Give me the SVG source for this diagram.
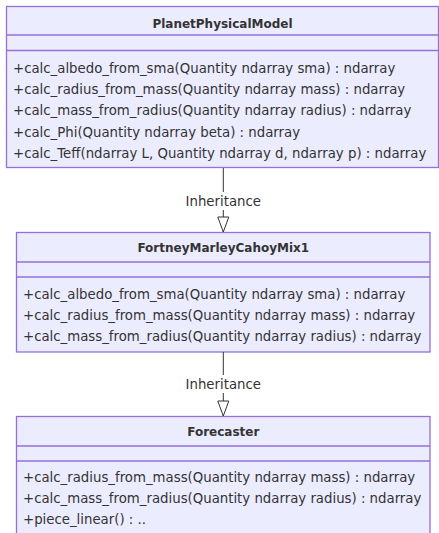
<svg xmlns="http://www.w3.org/2000/svg" width="439" height="533" viewBox="0 0 439 533">
<style>
.box{fill:#ECECFF;stroke:#9370DB;stroke-width:1.3}
.div{stroke:#9370DB;stroke-width:1.3}
.t{font-family:"DejaVu Sans",Verdana,sans-serif;font-size:13.3px;fill:#333}
.title{font-family:"DejaVu Sans",Verdana,sans-serif;font-size:12px;font-weight:bold;fill:#333;text-anchor:middle}
.edge{stroke:#333;stroke-width:1;fill:none}
.lbl{font-family:"DejaVu Sans",Verdana,sans-serif;font-size:13.3px;fill:#333;text-anchor:middle}
</style>
<defs>
<marker id="ext" markerWidth="14" markerHeight="18" refX="6.5" refY="16" orient="0" markerUnits="userSpaceOnUse">
<path d="M1,1 L12,1 L6.5,16 Z" fill="#fff" stroke="#333" stroke-width="1"/>
</marker>
</defs>
<g id="PlanetPhysicalModel">
<rect class="box" x="6.5" y="6.5" width="432" height="161"/>
<line class="div" x1="6.5" y1="35" x2="438.5" y2="35"/>
<line class="div" x1="6.5" y1="50.5" x2="438.5" y2="50.5"/>
<text class="title" x="222.5" y="27.5">PlanetPhysicalModel</text>
<text class="t" x="13" y="73">+calc_albedo_from_sma(Quantity ndarray sma) : ndarray</text>
<text class="t" x="13" y="94.2">+calc_radius_from_mass(Quantity ndarray mass) : ndarray</text>
<text class="t" x="13" y="115.4">+calc_mass_from_radius(Quantity ndarray radius) : ndarray</text>
<text class="t" x="13" y="136.6">+calc_Phi(Quantity ndarray beta) : ndarray</text>
<text class="t" x="13" y="157.8">+calc_Teff(ndarray L, Quantity ndarray d, ndarray p) : ndarray</text>
</g>
<g id="FortneyMarleyCahoyMix1">
<rect class="box" x="16.5" y="232.5" width="413.5" height="119.5"/>
<line class="div" x1="16.5" y1="262" x2="430" y2="262"/>
<line class="div" x1="16.5" y1="277" x2="430" y2="277"/>
<text class="title" x="223.3" y="252">FortneyMarleyCahoyMix1</text>
<text class="t" x="23" y="298.5">+calc_albedo_from_sma(Quantity ndarray sma) : ndarray</text>
<text class="t" x="23" y="319.7">+calc_radius_from_mass(Quantity ndarray mass) : ndarray</text>
<text class="t" x="23" y="340.9">+calc_mass_from_radius(Quantity ndarray radius) : ndarray</text>
</g>
<g id="Forecaster">
<rect class="box" x="16.5" y="416.5" width="413.5" height="118"/>
<line class="div" x1="16.5" y1="446" x2="430" y2="446"/>
<line class="div" x1="16.5" y1="461" x2="430" y2="461"/>
<text class="title" x="223.3" y="436">Forecaster</text>
<text class="t" x="23" y="481.5">+calc_radius_from_mass(Quantity ndarray mass) : ndarray</text>
<text class="t" x="23" y="502.7">+calc_mass_from_radius(Quantity ndarray radius) : ndarray</text>
<text class="t" x="23" y="523.9">+piece_linear() : ..</text>
</g>
<g id="connectors">
<path class="edge" d="M223.3,168 L223.3,232" marker-end="url(#ext)"/>
<rect x="184" y="192" width="79" height="18" fill="#fff"/>
<text class="lbl" x="223.3" y="205.5">Inheritance</text>
<path class="edge" d="M223.3,352 L223.3,416" marker-end="url(#ext)"/>
<rect x="184" y="375" width="79" height="18" fill="#fff"/>
<text class="lbl" x="223.3" y="388.5">Inheritance</text>
</g>
</svg>
